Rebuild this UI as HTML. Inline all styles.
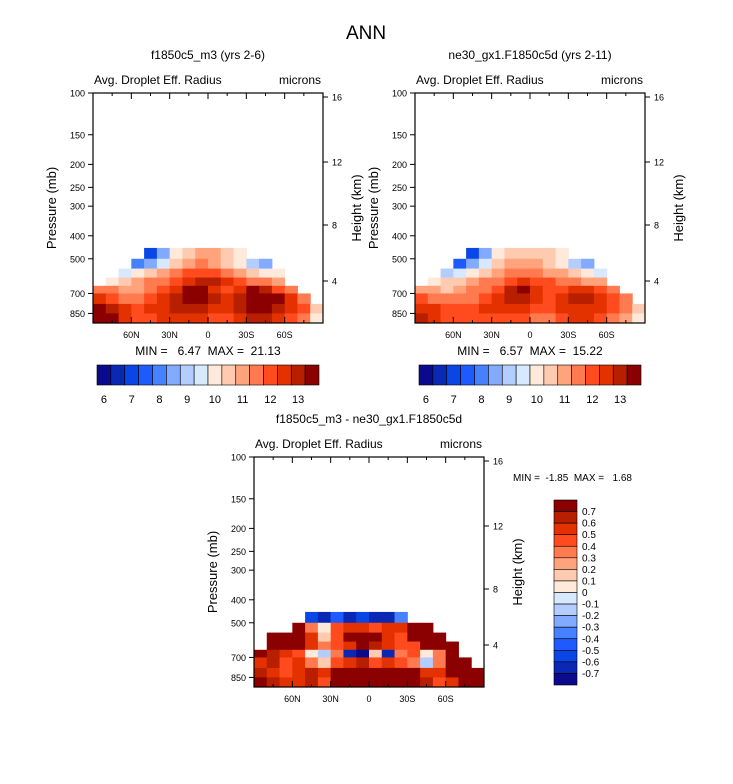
<!DOCTYPE html>
<html><head><meta charset="utf-8">
<style>
body{margin:0;background:#fff;}
svg{display:block;font-family:"Liberation Sans",Arial,sans-serif;}
svg text{white-space:pre;}
</style></head>
<body>
<svg id="fig" width="733" height="784" viewBox="0 0 733 784">
<text x="366" y="39" font-size="19" text-anchor="middle">ANN</text>
</svg>
<script>
// ---- data ----
const lats = ["85N","75N","65N","55N","45N","35N","25N","15N","5N","5S","15S","25S","35S","45S","55S","65S","75S","85S"];
const latCenters = [85,75,65,55,45,35,25,15,5,-5,-15,-25,-35,-45,-55,-65,-75,-85];
const pEdges = [450,500,550,600,650,700,775,850,933];
const latTicks = ["60N","30N","0","30S","60S"];
const latTickVals = [60,30,0,-30,-60];
const pTicks = [100,150,200,250,300,400,500,700,850];
const hTicks = [16,12,8,4];
const hTickP = [97,162,225,281];
const levels1 = ["6","7","8","9","10","11","12","13"];
const levelsD = ["0.7","0.6","0.5","0.4","0.3","0.2","0.1","0","-0.1","-0.2","-0.3","-0.4","-0.5","-0.6","-0.7"];
const n=null;
const field1 = [
 [n,n,n,n,6.5,8,9.5,10,10.5,10.5,10,9.5,n,n,n,n,n,n],
 [n,n,n,7.5,8,9,10,10.5,11,10.5,10,9.5,8.5,8,n,n,n,n],
 [n,n,9,9.5,10,10.5,11,11.5,11.5,11.5,11,10.5,10,9.5,9.5,n,n,n],
 [n,9.5,10,10.5,11,11,11.5,12,12.5,12.5,12,11.5,11,11,10.5,n,n,n],
 [11,11,10.5,10.5,11,11.5,12,13.5,13.5,12,11.5,12,13,12.5,11.5,11,n,n],
 [12,11.5,11,11,11.5,12,12.5,13.5,13,12.5,12,12.5,13.5,13.5,13,12,11,n],
 [13,12.5,12,11.5,12,12,12.5,12.5,12.5,12,12,12.5,13,13,12.5,12,11.5,10],
 [13.5,13,12,11.5,11.5,12,12,12,12,11.5,11.5,12,12.5,12.5,12,11.5,11,9.5]];
const field2 = [
 [n,n,n,n,6.5,8,9.5,10,10,10,10,9.5,n,n,n,n,n,n],
 [n,n,n,7,8,9,10,10.5,10.5,10.5,10,9.5,8.5,8,n,n,n,n],
 [n,n,8.5,9,9.5,10,10.5,11,11,11,10.5,10.5,10,9.5,9,n,n,n],
 [n,9.5,10,10,10.5,11,11,11.5,12,11.5,11.5,11,11,10.5,10.5,n,n,n],
 [10.5,10.5,10,10.5,11,11,11.5,12.5,13,12,11.5,11.5,12,12,11.5,11,n,n],
 [11.5,11,11,11,11,11.5,12,12.5,12.5,12,11.5,12,12.5,12.5,12,11.5,11,n],
 [12,12,11.5,11.5,11.5,12,12,12,12,11.5,11.5,12,12,12,12,11.5,11,10],
 [12.5,12,11.5,11.5,11.5,11.5,11.5,11.5,11.5,11,11,11.5,12,12,11.5,11,10.5,9.5]];
const fieldD = [
 [n,n,n,n,-0.5,-0.6,-0.4,-0.6,-0.5,-0.6,-0.7,-0.3,n,n,n,n,n,n],
 [n,n,n,1,0.3,0.1,0.5,0.6,0.6,0.5,0.6,0.6,0.8,1,n,n,n,n],
 [n,1,1,1,0.6,0.2,0.5,1,1,0.8,0.6,0.5,1,1,1,n,n,n],
 [n,1,1,0.8,0.6,0.3,0.4,0.6,0.8,0.7,0.6,0.4,0.5,0.8,1,1,n,n],
 [0.8,0.7,0.6,0.4,0.1,-0.1,0.3,-0.6,-1,0.2,-0.7,0.3,0.4,0.1,0.3,1,n,n],
 [0.6,0.7,0.5,0.6,0.3,0.2,0.4,0.6,0.7,0.4,0.6,0.5,0.3,-0.1,0.3,1,1,n],
 [0.7,0.6,0.5,0.6,0.7,0.6,1,1,1,1,1,1,0.8,0.6,0.6,0.8,1,1],
 [0.8,0.7,0.6,0.6,0.7,0.5,1,1,1,1,1,1,1,0.7,0.5,0.6,1,1]];
const palette=["#0a0a8c","#0a28b4","#0a46e6","#1e5aff","#4682ff","#82aaff","#b4cdff","#d7e9ff","#ffe9da","#ffcbb0","#ffa37c","#ff7a4e","#ff4b1e","#e33200","#b81e00","#8b0000"];

const svg=document.getElementById('fig');
const NS="http://www.w3.org/2000/svg";
function mk(tag,attrs,parent){const e=document.createElementNS(NS,tag);for(const k in attrs)e.setAttribute(k,attrs[k]);(parent||svg).appendChild(e);return e;}
function txt(x,y,s,size,anchor,parent){const t=mk('text',{x:x,y:y,'font-size':size,'text-anchor':anchor||'start'},parent);t.textContent=s;return t;}

function colorIdx(v,lo,step){let i=Math.floor((v-lo)/step)+1;return Math.max(0,Math.min(15,i));}

function panel(name,x0,y0,field,lo,step,title,minmax){
  const g=mk('g',{});
  
  
  const W=230,H=230;
  const xs=lat=>x0+(90-lat)*W/180;
  const ys=p=>y0+103*Math.log(p/100);
  field.forEach((row,r)=>{
    row.forEach((v,c)=>{
      if(v===null)return;
      const rc=mk('rect',{x:xs(latCenters[c]+5),y:ys(pEdges[r]),width:W/18+0.5,height:ys(pEdges[r+1])-ys(pEdges[r])+0.5,fill:palette[colorIdx(v,lo,step)]},g);
      
      
    });
  });
  mk('rect',{x:x0,y:y0,width:W,height:H,fill:'none',stroke:'#000','stroke-width':1.2},g);
  pTicks.forEach(p=>{const y=ys(p);mk('line',{x1:x0-5,x2:x0,y1:y,y2:y,stroke:'#000'},g);txt(x0-8,y+3.5,String(p),9,'end',g);});
  latTickVals.forEach((l,i)=>{const x=xs(l);mk('line',{x1:x,x2:x,y1:y0+H,y2:y0+H-6,stroke:'#000'},g);mk('line',{x1:x,x2:x,y1:y0,y2:y0+6,stroke:'#000'},g);txt(x,y0+H+15,latTicks[i],9,'middle',g);});
  [75,45,15,-15,-45,-75].forEach(l=>{const x=xs(l);mk('line',{x1:x,x2:x,y1:y0+H,y2:y0+H-3,stroke:'#000'},g);mk('line',{x1:x,x2:x,y1:y0,y2:y0+3,stroke:'#000'},g);});
  hTicks.forEach((h,i)=>{const y=y0+hTickP[i]-93;mk('line',{x1:x0+W,x2:x0+W+5,y1:y,y2:y,stroke:'#000'},g);txt(x0+W+9,y+3.5,String(h),9,'start',g);});
  const yl=txt(0,0,'Pressure (mb)',13,'middle',g);yl.setAttribute('transform',`translate(${x0-37},${y0+115}) rotate(-90)`);
  
  const hl=txt(0,0,'Height (km)',13,'middle',g);hl.setAttribute('transform',`translate(${x0+W+38},${y0+115}) rotate(-90)`);
  
  const t=txt(x0+W/2,y0-34,title,12,'middle',g);
  
  txt(x0+1,y0-9,'Avg. Droplet Eff. Radius',12,'start',g);
  txt(x0+W-2,y0-9,'microns',12,'end',g);
  if(minmax){txt(x0+W/2,y0+H+32,minmax,12,'middle',g);}
  return g;
}
panel('panel-f1850c5-m3',93,93,field1,6,0.5,'f1850c5_m3 (yrs 2-6)','MIN =   6.47  MAX =  21.13');
panel('panel-ne30',415,93,field2,6,0.5,'ne30_gx1.F1850c5d (yrs 2-11)','MIN =   6.57  MAX =  15.22');
panel('panel-difference',254,457,fieldD,-0.7,0.1,'f1850c5_m3 - ne30_gx1.F1850c5d',null);
const mm=txt(513,481,'MIN =  -1.85  MAX =   1.68',10,'start');


function hbar(name,x0){
  const g=mk('g',{});
  
  
  const w=222/16;
  palette.forEach((c,i)=>{mk('rect',{x:x0+i*w,y:365,width:w,height:20,fill:c,stroke:'#000','stroke-width':0.6},g);});
  levels1.forEach((s,i)=>{txt(x0+w*(2*i+1)-7,403,s,11,'middle',g);});
}
hbar('colorbar-left',97);
hbar('colorbar-right',419);
(function(){
  const g=mk('g',{});
  
  
  const h=185/16;
  palette.slice().reverse().forEach((c,i)=>{mk('rect',{x:554,y:500+i*h,width:23,height:h,fill:c,stroke:'#000','stroke-width':0.6},g);});
  levelsD.forEach((s,i)=>{txt(582,500+h*(i+1)+3.5,s,10,'start',g);});
})();
</script>
</body></html>
